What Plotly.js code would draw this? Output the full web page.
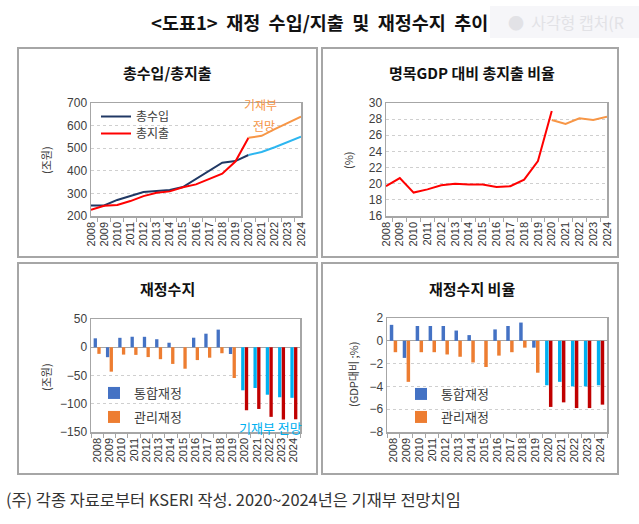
<!DOCTYPE html>
<html><head><meta charset="utf-8">
<script src="https://cdn.plot.ly/plotly-3.0.1.min.js"></script>
<style>html,body{margin:0;padding:0;background:#fff}#chart{width:639px;height:524px}</style>
</head><body><div id="chart"></div>
<script>
// ---------- data ----------
const years = ['2008','2009','2010','2011','2012','2013','2014','2015','2016','2017','2018','2019','2020','2021','2022','2023','2024'];
const yearsActual = years.slice(0, 13);   // 2008-2020
const yearsForecast = years.slice(12);    // 2020-2024 (기재부 전망)

// 총수입 / 총지출 (조원)
const revenueActual = [246, 247, 271, 288, 306, 311, 315, 328, 364, 399, 436, 443, 470];
const revenueForecast = [470, 483, 504, 527, 551];
const expenditureActual = [227, 245, 249, 266, 288, 303, 309, 327, 340, 362, 387, 441, 546];
const expenditureForecast = [546, 555, 584, 612, 640];

// 명목GDP 대비 총지출 비율 (%)
const gdpRatioActual = [19.7, 20.7, 18.9, 19.3, 19.8, 20.0, 19.9, 19.9, 19.6, 19.7, 20.5, 22.8, 29.0];
const gdpRatioForecast = [27.9, 27.4, 28.1, 27.9, 28.3];

// 재정수지 (조원)
const consolidatedBalance = [15.8, -17.6, 16.7, 18.6, 18.5, 14.2, 8.0, -0.2, 16.9, 24.0, 31.2, -12.0, -76.2, -72.1, -84.0, -88.5, -89.5];
const managedBalance = [-11.7, -43.2, -13.0, -13.5, -17.4, -21.1, -29.5, -38.0, -22.7, -18.5, -10.6, -54.4, -111.5, -109.2, -123.2, -127.9, -127.5];

// 재정수지 비율 (GDP대비 %)
const consolidatedRatio = [1.4, -1.5, 1.3, 1.3, 1.3, 0.9, 0.5, 0.0, 1.0, 1.3, 1.6, -0.6, -3.9, -3.6, -4.0, -4.0, -3.9];
const managedRatio = [-1.0, -3.6, -1.0, -1.0, -1.2, -1.4, -1.9, -2.3, -1.3, -1.0, -0.6, -2.8, -5.8, -5.4, -5.9, -5.9, -5.6];

const seriesNames = ['총수입', '총지출', '통합재정', '관리재정'];

// ---------- helpers ----------
const W = 639, H = 524;
const fx = p => p / W;
const fy = p => 1 - p / H;
const isForecast = y => Number(y) >= 2020;

const C = {
  navy: '#203864', red: '#FF0000', orange: '#F79646', sky: '#2DB6F0',
  blue: '#4472C4', barOrange: '#ED7D31', barSky: '#00B0F0', darkRed: '#C00000',
  frame: '#A6A6A6', grid: '#CFCFCF', text: '#404040'
};
const KFONT = 'Noto Sans CJK KR, sans-serif';
const TFONT = 'Liberation Sans, Arial, Noto Sans CJK KR, sans-serif';

const traces = [
  // chart 1
  {type:'scatter', mode:'lines', x: yearsActual, y: revenueActual, name: seriesNames[0],
   line:{color:C.navy, width:2}, xaxis:'x', yaxis:'y', legend:'legend'},
  {type:'scatter', mode:'lines', x: yearsActual, y: expenditureActual, name: seriesNames[1],
   line:{color:C.red, width:2}, xaxis:'x', yaxis:'y', legend:'legend4'},
  {type:'scatter', mode:'lines', x: yearsForecast, y: revenueForecast, name: seriesNames[0] + ' 전망',
   line:{color:C.sky, width:2}, xaxis:'x', yaxis:'y', showlegend:false},
  {type:'scatter', mode:'lines', x: yearsForecast, y: expenditureForecast, name: seriesNames[1] + ' 전망',
   line:{color:C.orange, width:2}, xaxis:'x', yaxis:'y', showlegend:false},
  // chart 2
  {type:'scatter', mode:'lines', x: yearsActual, y: gdpRatioActual, name:'총지출 비율',
   line:{color:C.red, width:2}, xaxis:'x2', yaxis:'y2', showlegend:false},
  {type:'scatter', mode:'lines', x: yearsForecast, y: gdpRatioForecast, name:'총지출 비율 전망',
   line:{color:C.orange, width:2}, xaxis:'x2', yaxis:'y2', showlegend:false},
  // chart 3
  {type:'bar', x: years, y: consolidatedBalance, name: seriesNames[2],
   marker:{color: years.map(y => isForecast(y) ? C.barSky : C.blue)}, xaxis:'x3', yaxis:'y3', legend:'legend2'},
  {type:'bar', x: years, y: managedBalance, name: seriesNames[3],
   marker:{color: years.map(y => isForecast(y) ? C.darkRed : C.barOrange)}, xaxis:'x3', yaxis:'y3', legend:'legend5'},
  // chart 4
  {type:'bar', x: years, y: consolidatedRatio, name: seriesNames[2],
   marker:{color: years.map(y => isForecast(y) ? C.barSky : C.blue)}, xaxis:'x4', yaxis:'y4', legend:'legend3'},
  {type:'bar', x: years, y: managedRatio, name: seriesNames[3],
   marker:{color: years.map(y => isForecast(y) ? C.darkRed : C.barOrange)}, xaxis:'x4', yaxis:'y4', legend:'legend6'}
];

function xAxis(domain, anchor) {
  return {domain, anchor, type:'category', tickmode:'array', tickvals: years, ticktext: years,
    tickangle:-90, ticks:'outside', tickson:'boundaries',
    ticklen:4, tickcolor:C.frame, showline:true, linecolor:C.frame, linewidth:1.5, mirror:true,
    showgrid:false, zeroline:false, automargin:false, tickfont:{family:TFONT, size:11, color:'#333'}, fixedrange:true};
}
function yAxis(domain, anchor, range, dtick, zero) {
  return {domain, anchor, range, dtick, showline:true, linecolor:C.frame, linewidth:1.5, mirror:true,
    ticks:'', showgrid:true, gridcolor:C.grid, griddash:'dot', gridwidth:1, automargin:false,
    zeroline: !!zero, zerolinecolor:C.frame, zerolinewidth:1,
    tickfont:{family:TFONT, size:12, color:C.text}, fixedrange:true};
}
function legendAt(xp, yp, size) {
  return {x: fx(xp), y: fy(yp), xanchor:'left', yanchor:'top', bgcolor:'rgba(0,0,0,0)',
    font:{family:KFONT, size: size || 13, color:C.text}, itemwidth:30, tracegroupgap:0};
}
function note(text, xp, yp, size, color, extra) {
  return Object.assign({text, x:fx(xp), y:fy(yp), xref:'paper', yref:'paper', showarrow:false,
    xanchor:'center', yanchor:'middle', font:{family:KFONT, size, color}}, extra || {});
}

const topY = [fy(216), fy(103)];
const layout = {
  width: W, height: H, margin:{l:0, r:0, t:0, b:0}, paper_bgcolor:'#fff', plot_bgcolor:'#fff',
  font:{family:KFONT, color:'#262626'},
  barmode:'group', bargap:0.4, bargroupgap:0.1,
  xaxis: xAxis([fx(91), fx(301)], 'y'),
  yaxis: yAxis(topY, 'x', [200, 700], 100),
  xaxis2: xAxis([fx(386), fx(607)], 'y2'),
  yaxis2: yAxis(topY, 'x2', [16, 30], 2),
  xaxis3: xAxis([fx(91), fx(300)], 'y3'),
  yaxis3: yAxis([fy(432), fy(319)], 'x3', [-150, 50], 50, true),
  xaxis4: xAxis([fx(387), fx(607)], 'y4'),
  yaxis4: yAxis([fy(432), fy(318)], 'x4', [-8, 2], 2, true),
  legend: legendAt(96, 102, 12),
  legend4: legendAt(96, 119, 12),
  legend2: legendAt(94, 378),
  legend5: legendAt(94, 402),
  legend3: legendAt(401, 379),
  legend6: legendAt(401, 402),
  shapes: [
    {type:'rect', xref:'paper', yref:'paper', x0:fx(490), x1:fx(639), y0:fy(38), y1:fy(6), fillcolor:'#F6F6F9', line:{width:0}, layer:'below'},
    {type:'rect', xref:'paper', yref:'paper', x0:fx(18), x1:fx(317), y0:fy(257), y1:fy(48), line:{color:C.frame, width:2}},
    {type:'rect', xref:'paper', yref:'paper', x0:fx(322), x1:fx(618), y0:fy(257), y1:fy(48), line:{color:C.frame, width:2}},
    {type:'rect', xref:'paper', yref:'paper', x0:fx(18), x1:fx(317), y0:fy(474), y1:fy(263), line:{color:C.frame, width:2}},
    {type:'rect', xref:'paper', yref:'paper', x0:fx(322), x1:fx(618), y0:fy(474), y1:fy(263), line:{color:C.frame, width:2}}
  ],
  annotations: [
    note('<b>&lt;도표1&gt;&nbsp; 재정&nbsp; 수입/지출&nbsp; 및&nbsp; 재정수지&nbsp; 추이</b>', 319, 22, 18.5, '#111'),
    note('●  사각형 캡처(R', 506, 22, 16, '#E2E2E6', {xanchor:'left'}),
    note('<b>총수입/총지출</b>', 167, 72, 15, '#111'),
    note('<b>명목GDP 대비 총지출 비율</b>', 472, 72, 15, '#111'),
    note('<b>재정수지</b>', 167, 288, 15, '#111'),
    note('<b>재정수지 비율</b>', 472, 288, 15, '#111'),
    note('기재부', 260, 105, 12, C.orange),
    note('전망', 264, 125, 12, C.orange),
    note('기재부 전망', 270, 427, 13, C.barSky),
    note('(조원)', 46, 160, 11, C.text, {textangle:-90}),
    note('(%)', 348, 160, 11, C.text, {textangle:-90}),
    note('(조원)', 46, 377, 11, C.text, {textangle:-90}),
    note('(GDP대비 ;%)', 353, 375, 11, C.text, {textangle:-90}),
    note('(주) 각종 자료로부터 KSERI 작성. 2020~2024년은 기재부 전망치임', 4, 499, 16.4, '#333', {xanchor:'left'})
  ]
};

Plotly.newPlot('chart', traces, layout, {displayModeBar:false, staticPlot:true});
</script></body></html>
